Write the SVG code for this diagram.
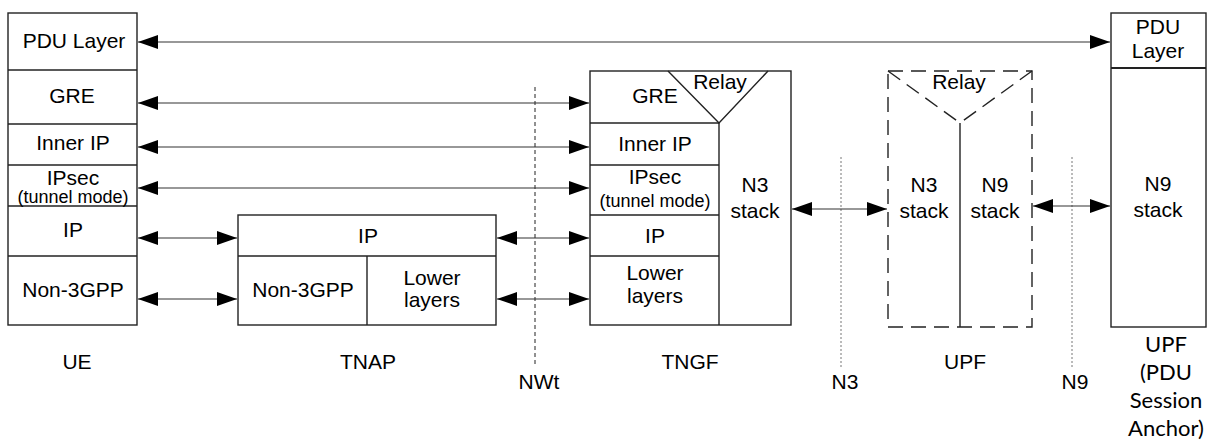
<svg xmlns="http://www.w3.org/2000/svg" width="1210" height="442" viewBox="0 0 1210 442">
<style>
  .box{fill:#fff;stroke:#222;stroke-width:1.4}
  .ln{fill:none;stroke:#222;stroke-width:1.4}
  .dash{fill:none;stroke:#222;stroke-width:1.4;stroke-dasharray:15 8}
  .t{font-family:"Liberation Sans",Arial,sans-serif;font-size:21px;fill:#000;text-anchor:middle}
  .s{font-family:"Liberation Sans",Arial,sans-serif;font-size:18px;fill:#000;text-anchor:middle}
  .c{font-family:Lato,"Open Sans",sans-serif;font-size:22px;fill:#000;text-anchor:middle}
  .arr{fill:none;stroke:#333;stroke-width:1.2;marker-start:url(#ah);marker-end:url(#ah)}
  .nwt{stroke:#222;stroke-width:1;stroke-dasharray:4 3}
  .ref{stroke:#777;stroke-width:1;stroke-dasharray:2 2}
</style>
<defs>
  <marker id="ah" viewBox="0 0 20 14" refX="20" refY="7" markerWidth="20" markerHeight="14" markerUnits="userSpaceOnUse" orient="auto-start-reverse">
    <path d="M0,0 L20,7 L0,14 Z" fill="#000"/>
  </marker>
</defs>
<rect width="1210" height="442" fill="#fff"/>

<g id="ref-points">
  <line class="nwt" x1="535" y1="87" x2="535" y2="367"/>
  <line class="ref" x1="841" y1="157" x2="841" y2="367"/>
  <line class="ref" x1="1072" y1="157" x2="1072" y2="367"/>
  <text class="t" x="539" y="389">NWt</text>
  <text class="t" x="845" y="389">N3</text>
  <text class="t" x="1075" y="389">N9</text>
</g>

<g id="connectors">
  <line class="arr" x1="138" y1="42" x2="1110" y2="42"/>
  <line class="arr" x1="138" y1="103" x2="589" y2="103"/>
  <line class="arr" x1="138" y1="147" x2="589" y2="147"/>
  <line class="arr" x1="138" y1="188" x2="589" y2="188"/>
  <line class="arr" x1="138" y1="238" x2="237" y2="238"/>
  <line class="arr" x1="138" y1="299" x2="237" y2="299"/>
  <line class="arr" x1="497" y1="238" x2="589" y2="238"/>
  <line class="arr" x1="497" y1="299" x2="589" y2="299"/>
  <line class="arr" x1="792" y1="209" x2="887" y2="209"/>
  <line class="arr" x1="1033" y1="206" x2="1110" y2="206"/>
</g>

<g id="ue">
  <rect class="box" x="8" y="13" width="129" height="312"/>
  <line class="ln" x1="8" y1="70" x2="137" y2="70"/>
  <line class="ln" x1="8" y1="124" x2="137" y2="124"/>
  <line class="ln" x1="8" y1="165" x2="137" y2="165"/>
  <line class="ln" x1="8" y1="206" x2="137" y2="206"/>
  <line class="ln" x1="8" y1="256" x2="137" y2="256"/>
  <text class="t" x="74" y="48">PDU Layer</text>
  <text class="t" x="72" y="103">GRE</text>
  <text class="t" x="73" y="150">Inner IP</text>
  <text class="t" x="73" y="185">IPsec</text>
  <text class="s" x="73" y="203">(tunnel mode)</text>
  <text class="t" x="73" y="237">IP</text>
  <text class="t" x="73" y="297">Non-3GPP</text>
  <text class="t" x="77" y="369">UE</text>
</g>

<g id="tnap">
  <rect class="box" x="238" y="215" width="258" height="110"/>
  <line class="ln" x1="238" y1="256" x2="496" y2="256"/>
  <line class="ln" x1="367" y1="256" x2="367" y2="325"/>
  <text class="t" x="368" y="243">IP</text>
  <text class="t" x="303" y="297">Non-3GPP</text>
  <text class="t" x="432" y="285">Lower</text>
  <text class="t" x="432" y="307">layers</text>
  <text class="t" x="368" y="369">TNAP</text>
</g>

<g id="tngf">
  <rect class="box" x="590" y="71" width="201" height="254"/>
  <polyline class="ln" points="668,71 719,123 768,71"/>
  <line class="ln" x1="719" y1="123" x2="719" y2="325"/>
  <line class="ln" x1="590" y1="123" x2="719" y2="123"/>
  <line class="ln" x1="590" y1="165" x2="719" y2="165"/>
  <line class="ln" x1="590" y1="215" x2="719" y2="215"/>
  <line class="ln" x1="590" y1="256" x2="719" y2="256"/>
  <text class="t" x="655" y="103">GRE</text>
  <text class="t" x="720" y="89">Relay</text>
  <text class="t" x="655" y="151">Inner IP</text>
  <text class="t" x="655" y="184">IPsec</text>
  <text class="s" x="655" y="207">(tunnel mode)</text>
  <text class="t" x="655" y="243">IP</text>
  <text class="t" x="655" y="280">Lower</text>
  <text class="t" x="655" y="303">layers</text>
  <text class="t" x="755" y="192">N3</text>
  <text class="t" x="755" y="218">stack</text>
  <text class="t" x="690" y="369">TNGF</text>
</g>

<g id="upf">
  <rect class="dash" x="888" y="71" width="144" height="256"/>
  <line class="dash" x1="888" y1="71" x2="960" y2="123"/>
  <line class="dash" x1="1032" y1="71" x2="960" y2="123"/>
  <line class="ln" x1="960" y1="123" x2="960" y2="327"/>
  <text class="t" x="959" y="89">Relay</text>
  <text class="t" x="924" y="192">N3</text>
  <text class="t" x="924" y="218">stack</text>
  <text class="t" x="995" y="192">N9</text>
  <text class="t" x="995" y="218">stack</text>
  <text class="t" x="965" y="369">UPF</text>
</g>

<g id="upf-psa">
  <rect class="box" x="1111" y="13" width="95" height="314"/>
  <line x1="1111" y1="68" x2="1206" y2="68" stroke="#222" stroke-width="2.2"/>
  <text class="t" x="1158" y="34">PDU</text>
  <text class="t" x="1158" y="58">Layer</text>
  <text class="t" x="1158" y="191">N9</text>
  <text class="t" x="1158" y="217">stack</text>
  <text class="c" x="1166" y="352">UPF</text>
  <text class="c" x="1166" y="380">(PDU</text>
  <text class="c" x="1166" y="408">Session</text>
  <text class="c" x="1166" y="436">Anchor)</text>
</g>
</svg>
